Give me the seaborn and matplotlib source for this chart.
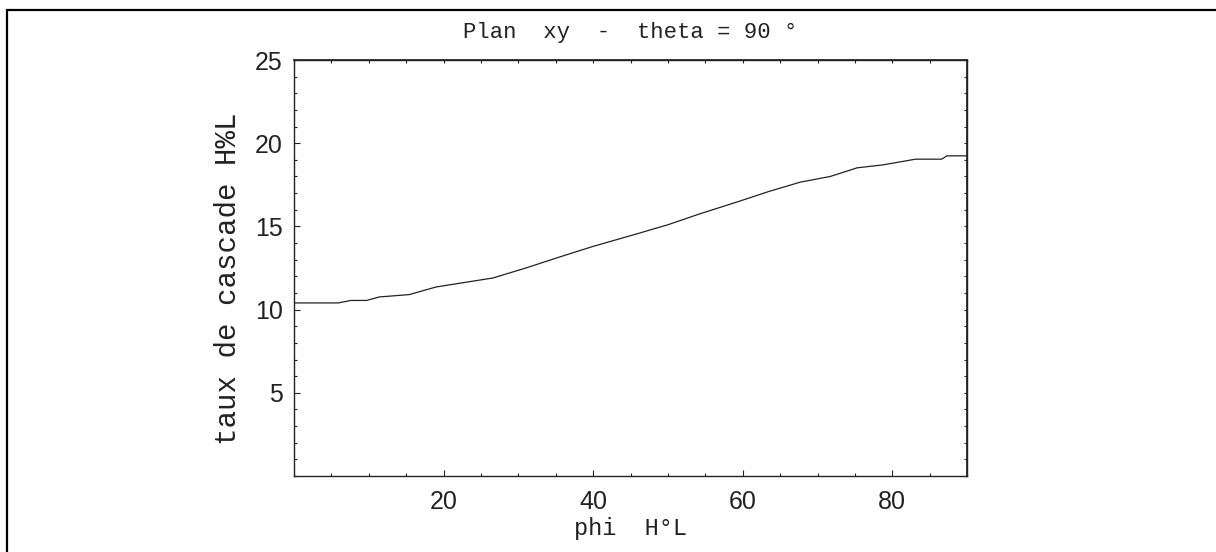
import matplotlib
matplotlib.use('Agg')
import matplotlib.pyplot as plt
import matplotlib.patches as patches
from matplotlib.ticker import MultipleLocator
import pandas as pd
import seaborn as sns

# valeurs
phi = [0, 5.9, 7.6, 9.7, 11.4, 15.4, 19, 26.6, 31, 35.5, 40, 45.6, 50, 54.3,
       59.6, 63.5, 67.7, 71.7, 75.3, 78.8, 83.1, 86.6, 87.3, 90]
taux = [10.4, 10.4, 10.55, 10.55, 10.76, 10.9, 11.36, 11.9, 12.5, 13.16, 13.8,
        14.52, 15.1, 15.76, 16.52, 17.1, 17.66, 18.0, 18.52, 18.7, 19.04, 19.04,
        19.24, 19.24]

titre = 'Plan  xy  -  theta = 90 °'
label_x = 'phi  H°L'
label_y = 'taux de cascade H%L'
yticks = [5, 10, 15, 20, 25]
xticks = [20, 40, 60, 80]

sns.set_theme(style='ticks')
plt.rcParams['font.family'] = ['Liberation Sans', 'DejaVu Sans']

df = pd.DataFrame({'phi': phi, 'taux': taux})

fig = plt.figure(figsize=(12.16, 5.52), dpi=100)
ax = fig.add_axes([0.2418, 0.1377, 0.5535, 0.7536])

sns.lineplot(data=df, x='phi', y='taux', ax=ax, color='#222222', linewidth=0.9)

ax.set_xlim(0, 90)
ax.set_ylim(0, 25)
ax.set_xticks(xticks)
ax.set_yticks(yticks)
ax.xaxis.set_minor_locator(MultipleLocator(5))
ax.yaxis.set_minor_locator(MultipleLocator(1))

for s in ax.spines.values():
    s.set_linewidth(1.0)
    s.set_color('#222222')

ax.tick_params(which='major', direction='in', length=4.5, width=0.8,
               labelsize=18, colors='#222222')
ax.tick_params(which='minor', direction='in', length=2.2, width=0.8, colors='#222222')
ax.tick_params(axis='x', which='major', pad=10)
ax.tick_params(axis='y', which='major', pad=8)

# petits traits en haut et a droite
top = ax.secondary_xaxis('top')
top.xaxis.set_major_locator(MultipleLocator(5))
top.tick_params(direction='in', length=2.2, width=0.8, labeltop=False, colors='#222222')
right = ax.secondary_yaxis('right')
right.yaxis.set_major_locator(MultipleLocator(1))
right.tick_params(direction='in', length=2.2, width=0.8, labelright=False, colors='#222222')

mono = ['Liberation Mono', 'DejaVu Sans Mono']
ax.set_title(titre, family=mono, fontsize=16, pad=16, color='#222222')
ax.set_xlabel(label_x, family=mono, fontsize=17, labelpad=2, color='#222222')
ax.set_ylabel(label_y, family=mono, fontsize=21, color='#222222')
ax.yaxis.set_label_coords(-0.077, 0.475)

# cadre exterieur
cadre = patches.Rectangle((0.006, -0.1), 1.2, 1.081, transform=fig.transFigure,
                          fill=False, linewidth=1.6, edgecolor='black', clip_on=False)
fig.patches.append(cadre)

fig.savefig('out.png', dpi=100, facecolor='white')
